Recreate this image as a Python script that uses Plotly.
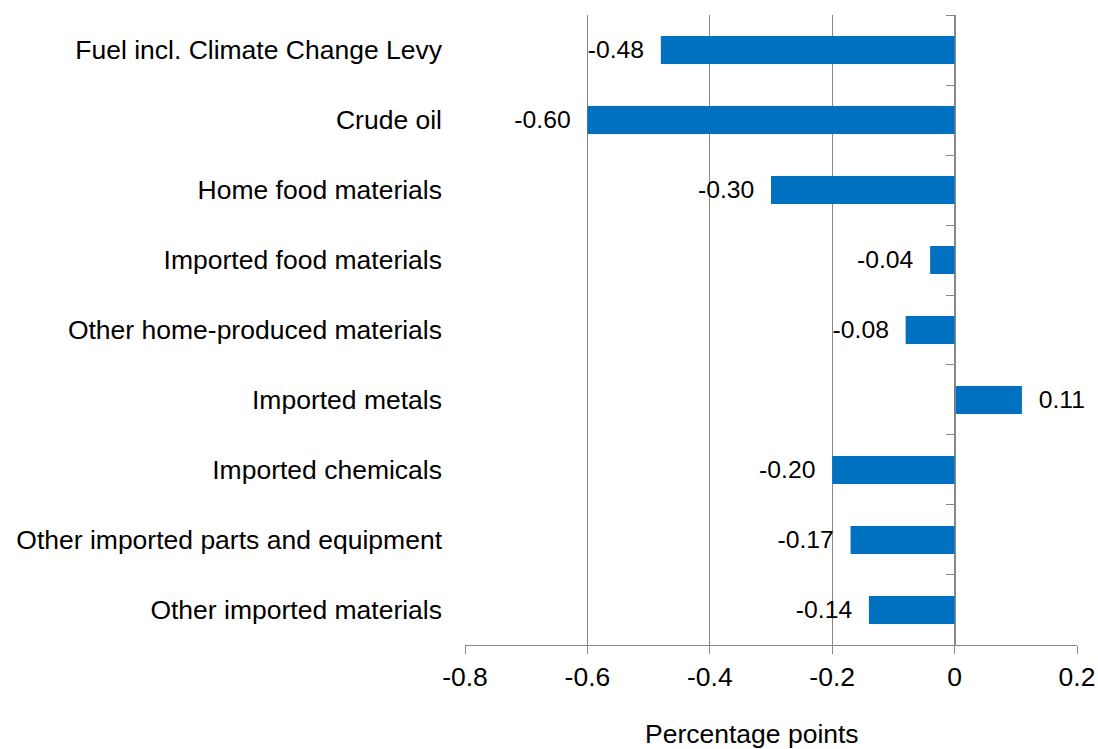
import plotly.graph_objects as go

categories = [
    "Fuel incl. Climate Change Levy",
    "Crude oil",
    "Home food materials",
    "Imported food materials",
    "Other home-produced materials",
    "Imported metals",
    "Imported chemicals",
    "Other imported parts and equipment",
    "Other imported materials",
]
contributions = [-0.48, -0.60, -0.30, -0.04, -0.08, 0.11, -0.20, -0.17, -0.14]
x_ticks = [-0.8, -0.6, -0.4, -0.2, 0, 0.2]
x_tick_labels = ["-0.8", "-0.6", "-0.4", "-0.2", "0", "0.2"]

BAR_BLUE = "#0070C0"
GRID = "#898989"
FONT = "Liberation Sans, Arial, sans-serif"
SIZE = 26.5

pad = "\u00a0\u00a0"
labels = [(f"{v:.2f}" + pad) if v < 0 else (pad + f"{v:.2f}") for v in contributions]

fig = go.Figure()

fig.add_trace(go.Bar(
    x=contributions,
    y=categories,
    orientation="h",
    marker=dict(color=BAR_BLUE, line=dict(width=0)),
    text=labels,
    textposition="outside",
    textfont=dict(family=FONT, size=SIZE, color="black"),
    cliponaxis=False,
    width=0.4,
    hoverinfo="skip",
    yaxis="y",
))

# invisible companion trace that carries the category axis drawn at x = 0
fig.add_trace(go.Scatter(
    x=contributions,
    y=categories,
    mode="markers",
    marker=dict(opacity=0),
    hoverinfo="skip",
    showlegend=False,
    yaxis="y2",
))

fig.update_layout(
    width=1098,
    height=749,
    margin=dict(l=465, r=21, t=15, b=104),
    paper_bgcolor="white",
    plot_bgcolor="white",
    showlegend=False,
    font=dict(family=FONT, size=SIZE, color="black"),
    xaxis=dict(
        range=[-0.8, 0.2],
        tickvals=x_ticks,
        ticktext=x_tick_labels,
        automargin=False,
        showgrid=True,
        gridcolor=GRID,
        gridwidth=1.3,
        zeroline=False,
        showline=True,
        linecolor=GRID,
        linewidth=1.3,
        ticks="outside",
        ticklen=8,
        tickcolor=GRID,
        tickwidth=1.3,
        tickfont=dict(size=SIZE, color="black"),
    ),
    yaxis=dict(
        type="category",
        categoryorder="array",
        categoryarray=categories,
        autorange="reversed",
        automargin=False,
        showgrid=False,
        zeroline=False,
        showline=False,
        ticks="",
        ticklabelstandoff=22,
        tickfont=dict(size=SIZE, color="black"),
    ),
    yaxis2=dict(
        type="category",
        categoryorder="array",
        categoryarray=categories,
        autorange="reversed",
        overlaying="y",
        anchor="free",
        position=0.8,
        side="left",
        automargin=False,
        showgrid=False,
        zeroline=False,
        showline=True,
        linecolor=GRID,
        linewidth=1.3,
        ticks="outside",
        tickson="boundaries",
        ticklen=8,
        tickcolor=GRID,
        tickwidth=1.3,
        showticklabels=False,
    ),
    annotations=[dict(
        text="Percentage points",
        xref="paper", yref="paper",
        x=0.469, y=-0.1405,
        xanchor="center", yanchor="middle",
        showarrow=False,
        font=dict(size=SIZE, color="black"),
    )],
)

fig.write_html("out.html")
